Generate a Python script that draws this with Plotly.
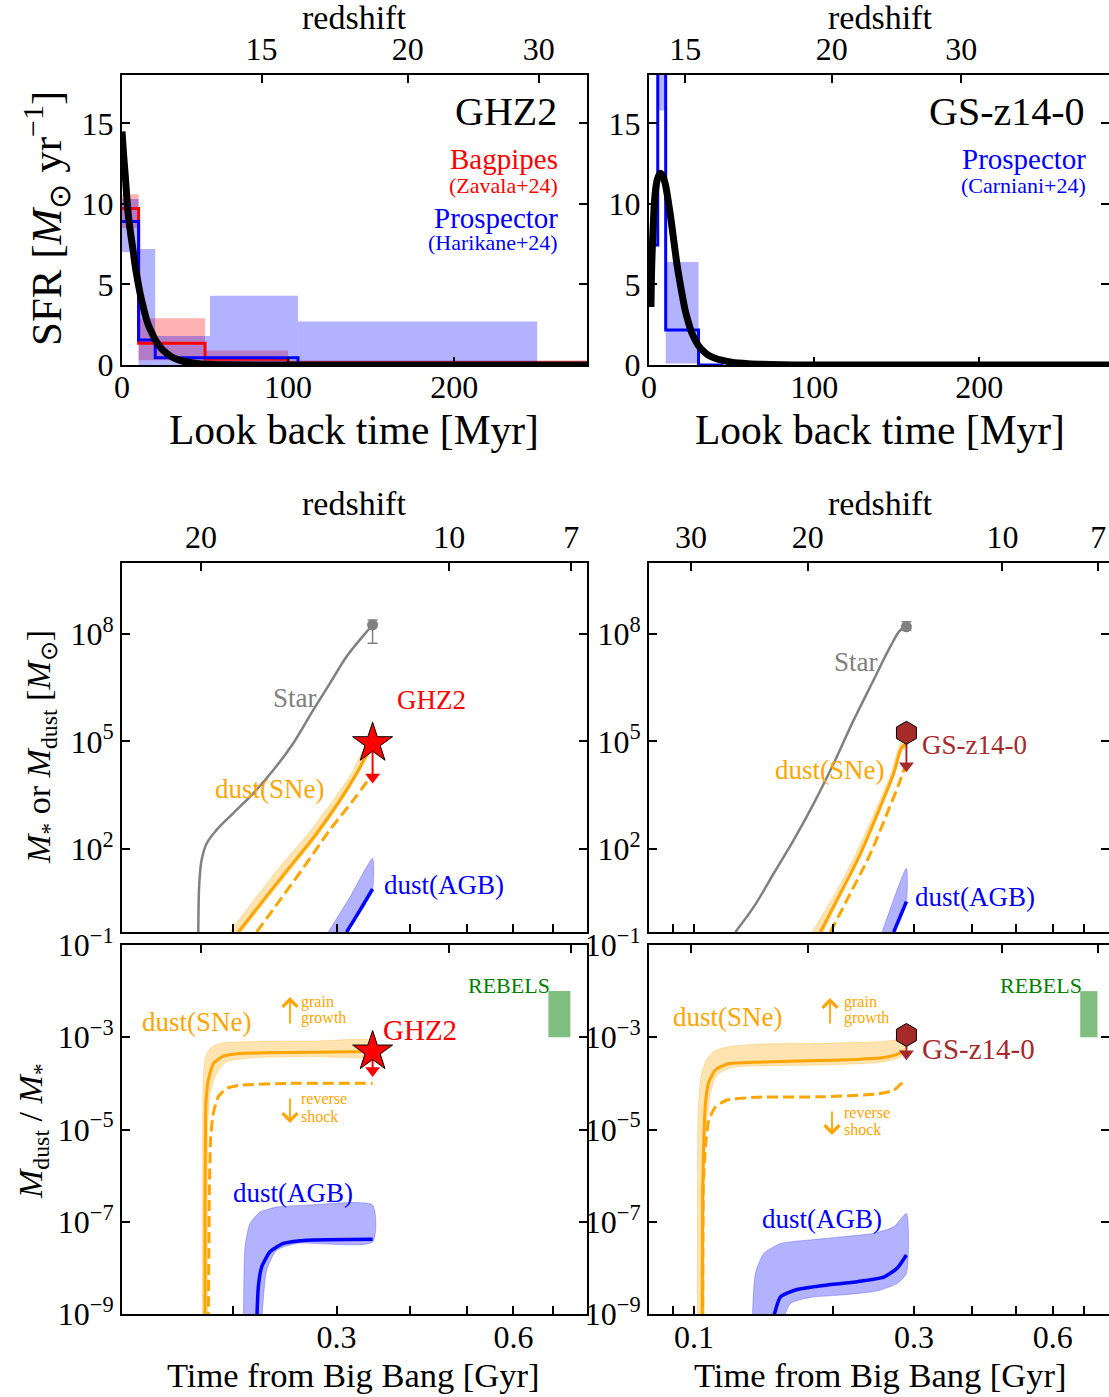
import plotly.graph_objects as go

W, H = 1109, 1397
FONT = "Liberation Serif, Times New Roman, Times, serif"

# ================= DATA =================
# --- top row: star-formation histories (look-back time [Myr], SFR [Msun/yr]) ---
ghz2_model_t = [0, 1, 2, 3.6, 5, 6.7, 8, 9.7, 11, 12.8, 14, 15.8, 18, 19.8, 22, 23.9, 27, 30, 34, 38,
                43, 48, 55, 65, 80, 100, 150, 280]
ghz2_model_sfr = [14.5, 13.0, 11.7, 9.5, 8.3, 7.1, 6.1, 5.1, 4.4, 3.6, 3.1, 2.5, 2.0, 1.6, 1.25, 1.0,
                  0.72, 0.5, 0.32, 0.2, 0.12, 0.07, 0.03, 0.01, 0, 0, 0, 0]
zavala_edges = [0, 10, 50, 100, 280]
zavala_sfr = [9.72, 1.35, 0.35, 0.12]
zavala_lo = [8.5, 0.3, 0.15, 0.0]
zavala_hi = [10.6, 2.9, 0.9, 0.3]
harikane_edges = [0, 10, 20, 53, 106, 250]
harikane_sfr = [8.9, 1.55, 0.45, 0.45, 0.05]
harikane_lo = [7.0, 0.0, 0.0, 0.0, 0.0]
harikane_hi = [10.3, 7.2, 1.8, 4.3, 2.7]

gsz14_model_t = [1.2, 1.6, 2.5, 3.6, 5, 6.7, 8, 9.7, 11, 12.8, 14, 15.8, 17, 18.8, 20, 21.9, 24, 25.9,
                 28, 30, 33, 36, 40, 44, 50, 60, 80, 120, 280]
gsz14_model_sfr = [3.6, 6.0, 8.5, 10.5, 11.5, 11.9, 11.8, 11.3, 10.6, 9.4, 8.5, 7.1, 6.2, 5.1, 4.4, 3.4,
                   2.6, 2.0, 1.55, 1.2, 0.85, 0.6, 0.42, 0.3, 0.17, 0.08, 0.02, 0, 0]
carniani_edges = [0, 5.3, 10.1, 30, 45]
carniani_sfr = [7.45, 30.0, 2.17, 0.0]
carniani_lo = [None, 15.8, 0.1, None]
carniani_hi = [None, 40.0, 6.4, None]

lbt_ticks = [0, 100, 200]
sfr_ticks = [0, 5, 10, 15]
ghz2_lbt_z_ticks = [84, 172, 251]
gsz14_lbt_z_ticks = [22, 110.6, 189]
lbt_z_labels = ["15", "20", "30"]

# --- middle/bottom rows: time from Big Bang [Gyr]; values are log10 ---
age_z_ticks = [0.0985, 0.1764, 0.4665, 0.7527]
age_z_labels = ["30", "20", "10", "7"]
age_ticks_left = [0.2, 0.3, 0.4, 0.5, 0.6, 0.7]
age_labels_left = ["", "0.3", "", "", "0.6", ""]
age_ticks_right = [0.09, 0.1, 0.2, 0.3, 0.4, 0.5, 0.6, 0.7]
age_labels_right = ["", "0.1", "", "0.3", "", "", "0.6", ""]
mass_ticks = [1e2, 1e5, 1e8]
mass_labels = ["10<sup>2</sup>", "10<sup>5</sup>", "10<sup>8</sup>"]
ratio_ticks = [1e-9, 1e-7, 1e-5, 1e-3, 1e-1]
ratio_labels = ["10<sup>\u22129</sup>", "10<sup>\u22127</sup>", "10<sup>\u22125</sup>",
                "10<sup>\u22123</sup>", "10<sup>\u22121</sup>"]

# GHZ2 masses (log10 Msun)
ghz2_star_t = [0.1745, 0.1752, 0.1768, 0.1803, 0.1875, 0.2002, 0.2165, 0.2342, 0.2532, 0.2739, 0.2923,
               0.3121, 0.3375, 0.3455]
ghz2_star_logm = [-0.5, 1.04, 1.69, 2.15, 2.53, 3.00, 3.55, 4.20, 4.95, 5.88, 6.62, 7.37, 8.06, 8.25]
ghz2_sne_t = [0.2042, 0.2252, 0.2499, 0.2774, 0.3040, 0.3245, 0.3375, 0.3455]
ghz2_sne_logm = [-0.32, 0.57, 1.50, 2.43, 3.36, 4.11, 4.62, 4.87]
ghz2_sne_hi_t = [0.1976, 0.2171, 0.2403, 0.2686, 0.2962, 0.3183, 0.3331, 0.3455]
ghz2_sne_hi_logm = [-0.32, 0.57, 1.50, 2.43, 3.36, 4.11, 4.76, 5.05]
ghz2_sne_lo_t = [0.2065, 0.2252, 0.2499, 0.2774, 0.3040, 0.3245, 0.3375, 0.3455]
ghz2_sne_lo_logm = [-0.32, 0.47, 1.40, 2.33, 3.26, 4.01, 4.52, 4.77]
ghz2_rs_t = [0.2194, 0.2403, 0.2668, 0.2923, 0.3203, 0.3441]
ghz2_rs_logm = [-0.32, 0.57, 1.60, 2.53, 3.36, 4.05]
ghz2_agb_t = [0.3121, 0.3289, 0.3455]
ghz2_agb_logm = [-0.32, 0.29, 0.88]
ghz2_agb_hi_t = [0.2904, 0.3162, 0.3455]
ghz2_agb_hi_logm = [-0.32, 0.66, 1.73]
ghz2_obs_t = 0.3455
ghz2_mstar = [8.25, 8.39, 7.74]        # value, upper, lower
ghz2_mdust = [4.95, 4.01, 3.88]        # value, arrow head centre, tip

# GS-z14-0 masses
gs_star_t = [0.1229, 0.1347, 0.1489, 0.1645, 0.1818, 0.2009, 0.2220, 0.2453, 0.2666, 0.2802, 0.2888]
gs_star_logm = [-0.32, 0.38, 1.32, 2.25, 3.27, 4.39, 5.60, 6.72, 7.65, 8.11, 8.20]
gs_sne_t = [0.1879, 0.2077, 0.2296, 0.2536, 0.2711, 0.2819, 0.2888]
gs_sne_logm = [-0.32, 0.76, 1.87, 3.18, 4.11, 4.82, 4.93]
gs_sne_hi_t = [0.1803, 0.2026, 0.2246, 0.2495, 0.2675, 0.2802, 0.2888]
gs_sne_hi_logm = [-0.32, 0.76, 1.87, 3.18, 4.11, 4.96, 5.15]
gs_sne_lo_t = [0.1905, 0.2077, 0.2296, 0.2536, 0.2711, 0.2819, 0.2888]
gs_sne_lo_logm = [-0.32, 0.68, 1.79, 3.10, 4.03, 4.72, 4.85]
gs_rs_t = [0.1975, 0.2183, 0.2412, 0.2622, 0.2802, 0.2859]
gs_rs_logm = [-0.32, 0.76, 1.87, 2.99, 3.92, 4.25]
gs_agb_t = [0.2711, 0.2888]
gs_agb_logm = [-0.32, 0.53]
gs_agb_hi_t = [0.2557, 0.2888]
gs_agb_hi_logm = [-0.32, 1.46]
gs_obs_t = 0.2888
gs_mstar = [8.20, 8.34, 8.10]
gs_mdust = [5.24, 4.32, 4.15]

# GHZ2 dust-to-stellar ratio (log10)
ghz2_r_sne_t = [0.1791, 0.1792, 0.1794, 0.1798, 0.1815, 0.1851, 0.1925, 0.2055, 0.2499, 0.3455]
ghz2_r_sne = [-9.2, -6.5, -5.52, -4.43, -3.93, -3.57, -3.41, -3.35, -3.33, -3.31]
ghz2_r_sne_hi_t = [0.1774, 0.1775, 0.1777, 0.1783, 0.1803, 0.1851, 0.1925, 0.2194, 0.28, 0.3455]
ghz2_r_sne_hi = [-9.2, -5.5, -4.3, -3.71, -3.35, -3.19, -3.12, -3.09, -3.08, -3.08]
ghz2_r_sne_lo_t = [0.1808, 0.1809, 0.1813, 0.1827, 0.1875, 0.1950, 0.2194, 0.28, 0.3455]
ghz2_r_sne_lo = [-9.2, -6.0, -4.8, -4.22, -3.78, -3.53, -3.44, -3.42, -3.41]
ghz2_r_rs_t = [0.1815, 0.1823, 0.1832, 0.1851, 0.1887, 0.1950, 0.2055, 0.2499, 0.3455]
ghz2_r_rs = [-9.2, -6.24, -5.16, -4.65, -4.29, -4.11, -4.04, -4.0, -4.0]
ghz2_r_agb_t = [0.2194, 0.2208, 0.2237, 0.2311, 0.2435, 0.2668, 0.3455]
ghz2_r_agb = [-9.2, -8.41, -7.98, -7.65, -7.47, -7.40, -7.38]
ghz2_r_agb_hi_t = [0.2083, 0.2096, 0.2137, 0.2223, 0.2372, 0.2668, 0.3455]
ghz2_r_agb_hi = [-9.2, -7.54, -7.04, -6.79, -6.68, -6.64, -6.64]
ghz2_r_agb_lo_t = [0.2237, 0.2282, 0.2372, 0.2566, 0.3455]
ghz2_r_agb_lo = [-9.2, -8.05, -7.62, -7.47, -7.44]
ghz2_ratio = [-3.31, -3.72, -3.82]

# GS-z14-0 dust-to-stellar ratio (log10)
gs_r_sne_t = [0.1041, 0.1044, 0.1050, 0.1058, 0.1076, 0.1112, 0.1179, 0.1369, 0.1758, 0.2258, 0.2578,
              0.2756, 0.2850]
gs_r_sne = [-9.2, -6.24, -5.16, -4.43, -3.97, -3.71, -3.58, -3.54, -3.51, -3.48, -3.44, -3.37, -3.29]
gs_r_sne_hi_t = [0.1016, 0.1017, 0.1019, 0.1032, 0.1058, 0.1103, 0.1179, 0.1369, 0.1911, 0.2495, 0.2780,
                 0.2875]
gs_r_sne_hi = [-9.2, -6.0, -4.8, -3.93, -3.53, -3.31, -3.21, -3.15, -3.13, -3.10, -3.05, -3.0]
gs_r_sne_lo_t = [0.1050, 0.1052, 0.1058, 0.1085, 0.1121, 0.1199, 0.1369, 0.1911, 0.2495, 0.2756, 0.2875]
gs_r_sne_lo = [-9.2, -6.0, -5.2, -4.22, -3.82, -3.66, -3.62, -3.60, -3.55, -3.46, -3.33]
gs_r_rs_t = [0.1044, 0.1047, 0.1058, 0.1076, 0.1112, 0.1179, 0.1369, 0.1911, 0.2495, 0.2710, 0.2865]
gs_r_rs = [-9.2, -6.24, -5.37, -4.80, -4.51, -4.36, -4.30, -4.29, -4.23, -4.15, -3.93]
gs_r_agb_t = [0.1476, 0.1539, 0.1673, 0.1911, 0.2258, 0.2578, 0.2756, 0.2888]
gs_r_agb = [-9.2, -8.63, -8.47, -8.38, -8.30, -8.20, -8.01, -7.72]
gs_r_agb_hi_t = [0.1336, 0.1358, 0.1416, 0.1539, 0.1758, 0.2077, 0.2453, 0.2710, 0.2888]
gs_r_agb_hi = [-9.2, -8.12, -7.69, -7.47, -7.40, -7.33, -7.25, -7.11, -6.82]
gs_r_agb_lo_t = [0.1552, 0.1618, 0.1788, 0.2077, 0.2495, 0.2756, 0.2888]
gs_r_agb_lo = [-9.2, -8.77, -8.64, -8.59, -8.50, -8.34, -8.12]
gs_ratio = [-2.95, -3.36, -3.49]

rebels_t = [0.688, 0.750]
rebels_logr = [-3.0, -2.0]

# ================= STYLE =================
RED, BLUE, ORANGE, GRAY, BROWN, GREEN = "#ff0000", "#0000ff", "#ffa500", "#808080", "#a52a2a", "#008000"
PINK_FILL = "rgba(255,0,0,0.3)"
BLUE_FILL = "rgba(0,0,255,0.3)"
ORANGE_FILL = "rgba(255,165,0,0.3)"
GREEN_FILL = "rgba(0,128,0,0.5)"

fig = go.Figure()


def pw(v):
    return [10 ** a for a in v]


def bars(xa, ya, edges, lo, hi, color):
    xs, ys, bs, ws = [], [], [], []
    for i in range(len(lo)):
        if lo[i] is None:
            continue
        xs.append((edges[i] + edges[i + 1]) / 2)
        ws.append(edges[i + 1] - edges[i])
        bs.append(lo[i])
        ys.append(hi[i] - lo[i])
    fig.add_trace(go.Bar(x=xs, y=ys, base=bs, width=ws, xaxis=xa, yaxis=ya,
                         marker=dict(color=color, line=dict(width=0)), hoverinfo="skip"))


def steps(xa, ya, edges, vals, color, width=3):
    fig.add_trace(go.Scatter(x=edges, y=list(vals) + [vals[-1]], mode="lines", xaxis=xa, yaxis=ya,
                             line=dict(color=color, width=width, shape="hv"), hoverinfo="skip"))


def curve(xa, ya, x, y, color, width, dash=None, smooth=1.0):
    fig.add_trace(go.Scatter(x=x, y=y, mode="lines", xaxis=xa, yaxis=ya,
                             line=dict(color=color, width=width, shape="spline", smoothing=smooth,
                                       dash=dash), hoverinfo="skip"))


def band(xa, ya, tu, vu, tl, vl, fill, edge):
    fig.add_trace(go.Scatter(x=list(tu) + list(tl)[::-1], y=pw(list(vu) + list(vl)[::-1]),
                             mode="lines", fill="toself", fillcolor=fill, xaxis=xa, yaxis=ya,
                             line=dict(color=edge, width=0.8, shape="spline", smoothing=0.6),
                             hoverinfo="skip"))


def arrow_down(xa, ya, t, v, color):
    fig.add_trace(go.Scatter(x=[t, t], y=pw([v[0], v[1]]), mode="lines", xaxis=xa, yaxis=ya,
                             line=dict(color=color, width=2), hoverinfo="skip"))
    fig.add_trace(go.Scatter(x=[t], y=pw([v[1]]), mode="markers", xaxis=xa, yaxis=ya,
                             marker=dict(symbol="triangle-down", size=13, color=color),
                             hoverinfo="skip"))


def obs_marker(xa, ya, t, v, symbol, color, size):
    fig.add_trace(go.Scatter(x=[t], y=pw([v]), mode="markers", xaxis=xa, yaxis=ya, cliponaxis=False,
                             marker=dict(symbol=symbol, size=size, color=color,
                                         line=dict(color="black", width=1)), hoverinfo="skip"))


def mstar_point(xa, ya, t, m):
    val = 10 ** m[0]
    fig.add_trace(go.Scatter(x=[t], y=[val], mode="markers", xaxis=xa, yaxis=ya,
                             marker=dict(color=GRAY, size=11),
                             error_y=dict(type="data", symmetric=False, array=[10 ** m[1] - val],
                                          arrayminus=[val - 10 ** m[2]], color=GRAY, thickness=1.5,
                                          width=5), hoverinfo="skip"))


def axis_holder(xa, ya, ticks):
    # empty trace so that the secondary (redshift) axis gets drawn
    fig.add_trace(go.Scatter(x=ticks, y=[None] * len(ticks), mode="markers", xaxis=xa, yaxis=ya,
                             marker=dict(opacity=0), hoverinfo="skip"))


DASH = "11px,5px"

# ---- top-left: GHZ2 SFH ----
bars("x", "y", zavala_edges, zavala_lo, zavala_hi, PINK_FILL)
bars("x", "y", harikane_edges, harikane_lo, harikane_hi, BLUE_FILL)
steps("x", "y", zavala_edges, zavala_sfr, RED)
steps("x", "y", harikane_edges, harikane_sfr, BLUE)
curve("x", "y", ghz2_model_t, ghz2_model_sfr, "black", 7)

# ---- top-right: GS-z14-0 SFH ----
bars("x2", "y2", carniani_edges, carniani_lo, carniani_hi, BLUE_FILL)
steps("x2", "y2", carniani_edges, carniani_sfr, BLUE)
curve("x2", "y2", gsz14_model_t, gsz14_model_sfr, "black", 7)

# ---- middle-left: GHZ2 masses ----
curve("x3", "y3", ghz2_star_t, pw(ghz2_star_logm), GRAY, 2.5)
band("x3", "y3", ghz2_sne_hi_t, ghz2_sne_hi_logm, ghz2_sne_lo_t, ghz2_sne_lo_logm, ORANGE_FILL,
     "rgba(255,165,0,0.35)")
curve("x3", "y3", ghz2_sne_t, pw(ghz2_sne_logm), ORANGE, 3)
curve("x3", "y3", ghz2_rs_t, pw(ghz2_rs_logm), ORANGE, 3, dash=DASH)
band("x3", "y3", ghz2_agb_hi_t, ghz2_agb_hi_logm, ghz2_agb_t, ghz2_agb_logm, BLUE_FILL,
     "rgba(0,0,255,0.3)")
curve("x3", "y3", ghz2_agb_t, pw(ghz2_agb_logm), BLUE, 3.5)
mstar_point("x3", "y3", ghz2_obs_t, ghz2_mstar)
arrow_down("x3", "y3", ghz2_obs_t, ghz2_mdust, RED)
obs_marker("x3", "y3", ghz2_obs_t, ghz2_mdust[0], "star", RED, 30)

# ---- middle-right: GS-z14-0 masses ----
curve("x4", "y4", gs_star_t, pw(gs_star_logm), GRAY, 2.5)
band("x4", "y4", gs_sne_hi_t, gs_sne_hi_logm, gs_sne_lo_t, gs_sne_lo_logm, ORANGE_FILL,
     "rgba(255,165,0,0.35)")
curve("x4", "y4", gs_sne_t, pw(gs_sne_logm), ORANGE, 3)
curve("x4", "y4", gs_rs_t, pw(gs_rs_logm), ORANGE, 3, dash=DASH)
band("x4", "y4", gs_agb_hi_t, gs_agb_hi_logm, gs_agb_t, gs_agb_logm, BLUE_FILL, "rgba(0,0,255,0.3)")
curve("x4", "y4", gs_agb_t, pw(gs_agb_logm), BLUE, 3.5)
mstar_point("x4", "y4", gs_obs_t, gs_mstar)
arrow_down("x4", "y4", gs_obs_t, gs_mdust, BROWN)
obs_marker("x4", "y4", gs_obs_t, gs_mdust[0], "hexagon", BROWN, 23)

# ---- bottom-left: GHZ2 ratio ----
fig.add_trace(go.Scatter(x=[rebels_t[0], rebels_t[1], rebels_t[1], rebels_t[0]],
                         y=pw([rebels_logr[0], rebels_logr[0], rebels_logr[1], rebels_logr[1]]),
                         fill="toself", fillcolor=GREEN_FILL, mode="lines", line=dict(width=0),
                         xaxis="x5", yaxis="y5", hoverinfo="skip"))
band("x5", "y5", ghz2_r_sne_hi_t, ghz2_r_sne_hi, ghz2_r_sne_lo_t, ghz2_r_sne_lo, ORANGE_FILL,
     "rgba(255,165,0,0.35)")
curve("x5", "y5", ghz2_r_sne_t, pw(ghz2_r_sne), ORANGE, 3, smooth=0.5)
curve("x5", "y5", ghz2_r_rs_t, pw(ghz2_r_rs), ORANGE, 3, dash=DASH, smooth=0.5)
band("x5", "y5", ghz2_r_agb_hi_t, ghz2_r_agb_hi, ghz2_r_agb_lo_t, ghz2_r_agb_lo, BLUE_FILL,
     "rgba(0,0,255,0.3)")
curve("x5", "y5", ghz2_r_agb_t, pw(ghz2_r_agb), BLUE, 3.5, smooth=0.5)
arrow_down("x5", "y5", ghz2_obs_t, ghz2_ratio, RED)
obs_marker("x5", "y5", ghz2_obs_t, ghz2_ratio[0], "star", RED, 30)

# ---- bottom-right: GS-z14-0 ratio ----
fig.add_trace(go.Scatter(x=[rebels_t[0], rebels_t[1], rebels_t[1], rebels_t[0]],
                         y=pw([rebels_logr[0], rebels_logr[0], rebels_logr[1], rebels_logr[1]]),
                         fill="toself", fillcolor=GREEN_FILL, mode="lines", line=dict(width=0),
                         xaxis="x6", yaxis="y6", hoverinfo="skip"))
band("x6", "y6", gs_r_sne_hi_t, gs_r_sne_hi, gs_r_sne_lo_t, gs_r_sne_lo, ORANGE_FILL,
     "rgba(255,165,0,0.35)")
curve("x6", "y6", gs_r_sne_t, pw(gs_r_sne), ORANGE, 3, smooth=0.5)
curve("x6", "y6", gs_r_rs_t, pw(gs_r_rs), ORANGE, 3, dash=DASH, smooth=0.5)
band("x6", "y6", gs_r_agb_hi_t, gs_r_agb_hi, gs_r_agb_lo_t, gs_r_agb_lo, BLUE_FILL,
     "rgba(0,0,255,0.3)")
curve("x6", "y6", gs_r_agb_t, pw(gs_r_agb), BLUE, 3.5, smooth=0.5)
arrow_down("x6", "y6", gs_obs_t, gs_ratio, BROWN)
obs_marker("x6", "y6", gs_obs_t, gs_ratio[0], "hexagon", BROWN, 23)

# secondary redshift axes
axis_holder("x7", "y", ghz2_lbt_z_ticks)
axis_holder("x8", "y2", gsz14_lbt_z_ticks)
axis_holder("x9", "y3", age_z_ticks)
axis_holder("x10", "y4", age_z_ticks)
axis_holder("x11", "y5", age_z_ticks)
axis_holder("x12", "y6", age_z_ticks)

# ================= AXES =================
XL = [122 / W, 587 / W]
XR = [649 / W, 1.0]
YT = [1 - 365 / H, 1 - 75 / H]
YM = [1 - 932 / H, 1 - 563 / H]
YB = [1 - 1314 / H, 1 - 945 / H]
TICKFONT = dict(family=FONT, size=32, color="black")
LEFT_LOG = [-0.888, -0.0967]
RIGHT_LOG = [-1.0979, -0.0999]


def ax(domain, rng, anchor, tv, tt, typ="linear", side=None, overlaying=None, labels=True, mirror=False,
       standoff=0):
    d = dict(domain=domain, range=rng, autorange=False, anchor=anchor, type=typ, tickmode="array",
             tickvals=tv, ticktext=tt, ticks="inside", ticklen=8, tickwidth=1.5, tickcolor="black",
             showline=True, linecolor="black", linewidth=2, showgrid=False, zeroline=False,
             showticklabels=labels, tickfont=TICKFONT, fixedrange=True, mirror=mirror,
             automargin=False, ticklabelstandoff=standoff)
    if side:
        d["side"] = side
    if overlaying:
        d["overlaying"] = overlaying
    return d


lay = {}
lay["xaxis"] = ax(XL, [0, 280], "y", lbt_ticks, [str(v) for v in lbt_ticks], standoff=-7)
lay["xaxis2"] = ax(XR, [0, 278.5], "y2", lbt_ticks, [str(v) for v in lbt_ticks], standoff=-7)
lay["xaxis3"] = ax(XL, LEFT_LOG, "y3", age_ticks_left, age_labels_left, typ="log", labels=False)
lay["xaxis4"] = ax(XR, RIGHT_LOG, "y4", age_ticks_right, age_labels_right, typ="log", labels=False)
lay["xaxis5"] = ax(XL, LEFT_LOG, "y5", age_ticks_left, age_labels_left, typ="log", standoff=-6)
lay["xaxis6"] = ax(XR, RIGHT_LOG, "y6", age_ticks_right, age_labels_right, typ="log", standoff=-6)
lay["xaxis7"] = ax(XL, [0, 280], "y", ghz2_lbt_z_ticks, lbt_z_labels, side="top", overlaying="x")
lay["xaxis8"] = ax(XR, [0, 278.5], "y2", gsz14_lbt_z_ticks, lbt_z_labels, side="top", overlaying="x2")
lay["xaxis9"] = ax(XL, LEFT_LOG, "y3", age_z_ticks, age_z_labels, typ="log", side="top", overlaying="x3")
lay["xaxis10"] = ax(XR, RIGHT_LOG, "y4", age_z_ticks, age_z_labels, typ="log", side="top",
                    overlaying="x4")
lay["xaxis11"] = ax(XL, LEFT_LOG, "y5", age_z_ticks, age_z_labels, typ="log", side="top",
                    overlaying="x5", labels=False)
lay["xaxis12"] = ax(XR, RIGHT_LOG, "y6", age_z_ticks, age_z_labels, typ="log", side="top",
                    overlaying="x6", labels=False)

lay["yaxis"] = ax(YT, [0, 18], "x", sfr_ticks, [str(v) for v in sfr_ticks], mirror="ticks")
lay["yaxis2"] = ax(YT, [0, 18], "x2", sfr_ticks, [str(v) for v in sfr_ticks], mirror="ticks")
lay["yaxis3"] = ax(YM, [-0.32, 9.98], "x3", mass_ticks, mass_labels, typ="log", mirror="ticks")
lay["yaxis4"] = ax(YM, [-0.32, 9.98], "x4", mass_ticks, mass_labels, typ="log", mirror="ticks")
lay["yaxis5"] = ax(YB, [-9, -1], "x5", ratio_ticks, ratio_labels, typ="log", mirror="ticks")
lay["yaxis6"] = ax(YB, [-9, -1], "x6", ratio_ticks, ratio_labels, typ="log", mirror="ticks")

# ================= TEXT =================
ANN = []


def txt(s, X, Y, size, color="black", xa="center", angle=0):
    ANN.append(dict(text=s, x=X / W, y=1 - Y / H, xref="paper", yref="paper", xanchor=xa,
                    yanchor="middle", showarrow=False, textangle=angle,
                    font=dict(family=FONT, size=size, color=color)))


def arr(X, Yhead, Ytail, color):
    ANN.append(dict(text="", x=X / W, y=1 - Yhead / H, xref="paper", yref="paper", ax=0,
                    ay=Ytail - Yhead, axref="pixel", ayref="pixel", showarrow=True, arrowhead=4,
                    arrowsize=1.6, arrowwidth=1.8, arrowcolor=color, standoff=0, startstandoff=0))


# top row
txt("GHZ2", 559, 111, 40, "black", "right")
txt("Bagpipes", 560, 159, 29, RED, "right")
txt("(Zavala+24)", 560, 185, 22, RED, "right")
txt("Prospector", 560, 218, 29, BLUE, "right")
txt("(Harikane+24)", 560, 243, 22, BLUE, "right")
txt("GS-z14-0", 1087, 111, 40, "black", "right")
txt("Prospector", 1088, 159, 29, BLUE, "right")
txt("(Carniani+24)", 1088, 185, 22, BLUE, "right")
txt("redshift", 354, 18, 34)
txt("redshift", 880, 18, 34)
txt("Look back time [Myr]", 354, 430, 41.5)
txt("Look back time [Myr]", 880, 430, 41.5)
txt("SFR [<i>M</i><sub>\u2299</sub> yr<sup>\u22121</sup>]", 46, 219, 43, angle=-90)

# middle row
txt("redshift", 354, 503, 34)
txt("redshift", 880, 503, 34)
txt("<i>M</i><sub>*</sub> or <i>M</i><sub>dust</sub> [<i>M</i><sub>\u2299</sub>]", 41, 747, 34, angle=-90)
txt("Star", 295, 698, 27, GRAY)
txt("GHZ2", 431, 700, 27, RED)
txt("dust(SNe)", 270, 789, 27, ORANGE)
txt("dust(AGB)", 444, 885, 27, BLUE)
txt("Star", 856, 662, 27, GRAY)
txt("GS-z14-0", 974, 745, 27, BROWN)
txt("dust(SNe)", 830, 770, 27, ORANGE)
txt("dust(AGB)", 975, 897, 27, BLUE)

# bottom row
txt("<i>M</i><sub>dust</sub> / <i>M</i><sub>*</sub>", 33, 1131, 34, angle=-90)
txt("Time from Big Bang [Gyr]", 353, 1375, 34.5)
txt("Time from Big Bang [Gyr]", 880, 1375, 34.5)
txt("dust(SNe)", 197, 1022, 27, ORANGE)
txt("GHZ2", 420, 1030, 29, RED)
txt("dust(AGB)", 293, 1193, 27, BLUE)
txt("REBELS", 509, 985, 22, GREEN)
txt("grain", 299, 1002, 16, ORANGE, "left")
txt("growth", 299, 1018, 16, ORANGE, "left")
txt("reverse", 299, 1098, 16, ORANGE, "left")
txt("shock", 299, 1116, 16, ORANGE, "left")
arr(290, 997, 1025, ORANGE)
arr(290, 1123, 1097, ORANGE)
txt("dust(SNe)", 728, 1017, 27, ORANGE)
txt("GS-z14-0", 978, 1049, 29, BROWN)
txt("dust(AGB)", 822, 1219, 27, BLUE)
txt("REBELS", 1041, 985, 22, GREEN)
txt("grain", 842, 1002, 16, ORANGE, "left")
txt("growth", 842, 1018, 16, ORANGE, "left")
txt("reverse", 842, 1112, 16, ORANGE, "left")
txt("shock", 842, 1129, 16, ORANGE, "left")
arr(830, 998, 1025, ORANGE)
arr(832, 1135, 1110, ORANGE)

fig.update_layout(width=W, height=H, margin=dict(l=0, r=0, t=0, b=0, autoexpand=False),
                  showlegend=False, paper_bgcolor="white", plot_bgcolor="white", barmode="overlay",
                  font=dict(family=FONT, color="black"), annotations=ANN, **lay)

fig.write_html("out.html")
